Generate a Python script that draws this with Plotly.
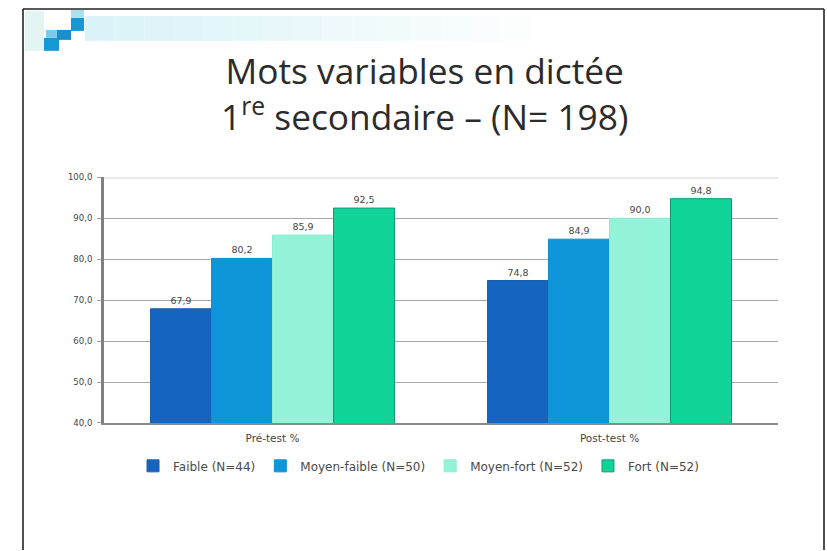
import plotly.graph_objects as go

title_text = "Mots variables en dictée<br>1<sup>re</sup> secondaire – (N= 198)"
categories = ["Pré-test %", "Post-test %"]
series_names = ["Faible (N=44)", "Moyen-faible (N=50)", "Moyen-fort (N=52)", "Fort (N=52)"]
faible = [67.9, 74.8]
moyen_faible = [80.2, 84.9]
moyen_fort = [85.9, 90.0]
fort = [92.5, 94.8]
series_values = [faible, moyen_faible, moyen_fort, fort]
colors = ["#1565c0", "#0f96da", "#93f3d8", "#10d398"]
edges = ["#1d5fa8", "#0f8fd0", "#8cecd2", "#0d9c74"]
tick_values = [40, 50, 60, 70, 80, 90, 100]

W, H = 827, 551
def py(y):
    return 1 - (y - 4) / 543

fig = go.Figure()
for name, vals, c, e in zip(series_names, series_values, colors, edges):
    fig.add_trace(go.Bar(
        x=categories, y=vals, name=name,
        marker=dict(color=c, line=dict(color=e, width=1)),
        text=vals, texttemplate="%{y:.1f}", textposition="outside",
        textfont=dict(size=9.5, color="#444444", family="DejaVu Sans"),
        cliponaxis=False,
    ))

shapes = []
n = 16
x0, x1 = 85, 560
for i in range(n):
    t = i / (n - 1)
    col = "rgb(%d,%d,%d)" % (218 + 37 * t, 243 + 12 * t, 248 + 7 * t)
    shapes.append(dict(type="rect", xref="paper", yref="paper",
                       x0=(x0 + (x1 - x0) * i / n) / W, x1=(x0 + (x1 - x0) * (i + 1) / n) / W,
                       y0=py(40), y1=py(15), fillcolor=col, line_width=0, layer="below"))
for bx0, by0, bx1, by1, col in [
    (25, 10, 44, 50, "#e3f5f3"), (44, 37, 59, 50, "#1697d6"), (46, 29, 57, 37, "#7ccbe8"),
    (57, 29, 71, 39, "#1b8fc9"), (71, 17, 84, 30, "#1697d6"), (71, 9, 84, 17, "#a9e2ee"),
]:
    shapes.append(dict(type="rect", xref="paper", yref="paper", x0=bx0 / W, x1=bx1 / W,
                       y0=py(by1), y1=py(by0), fillcolor=col, line_width=0, layer="below"))
for fx0, fy0, fx1, fy1 in [(23, 8, 824, 8), (23, 8, 23, 551), (824, 8, 824, 551)]:
    shapes.append(dict(type="line", xref="paper", yref="paper", x0=fx0 / W, x1=fx1 / W,
                       y0=py(fy0), y1=py(fy1), line=dict(color="#222222", width=1.6)))
shapes.append(dict(type="line", xref="x domain", yref="y", x0=0, x1=1, y0=100, y1=100,
                   line=dict(color="#e2e2e2", width=3), layer="below"))

title_font = dict(family="Open Sans", size=35.3, color="#2b2b2b")
annotations = [
    dict(text=title_text, x=424 / W, y=py(92), xref="paper", yref="paper",
         yanchor="middle", showarrow=False, font=title_font, align="center"),
]

fig.update_layout(
    width=W, height=H, autosize=False,
    margin=dict(l=0, r=0, t=0, b=0),
    paper_bgcolor="white", plot_bgcolor="white",
    separators=", ",
    barmode="group", bargap=0.276, bargroupgap=0,
    shapes=shapes, annotations=annotations,
    xaxis=dict(domain=[104 / W, 778 / W], showline=True, linecolor="#8a8a8a", linewidth=2,
               ticks="", ticklabelstandoff=4,
               tickfont=dict(size=10.5, color="#444444", family="DejaVu Sans")),
    yaxis=dict(domain=[py(423.5), py(177)], range=[40, 100], tickvals=tick_values,
               tickformat=".1f", showline=True, linecolor="#808080", linewidth=3,
               gridcolor="#a8a8a8", gridwidth=1, zeroline=False, ticks="outside", ticklen=4,
               ticklabelstandoff=3,
               tickcolor="#a8a8a8", tickfont=dict(size=8.5, color="#444444", family="DejaVu Sans")),
    legend=dict(orientation="h", x=133 / W, xanchor="left", y=py(452), yanchor="top",
                font=dict(size=12, color="#4a4a4a", family="DejaVu Sans"),
                bgcolor="rgba(0,0,0,0)", itemclick=False, itemdoubleclick=False),
    showlegend=True,
)
fig.write_html("out.html", post_script="document.body.style.margin='0';",
               config={"displayModeBar": False})
